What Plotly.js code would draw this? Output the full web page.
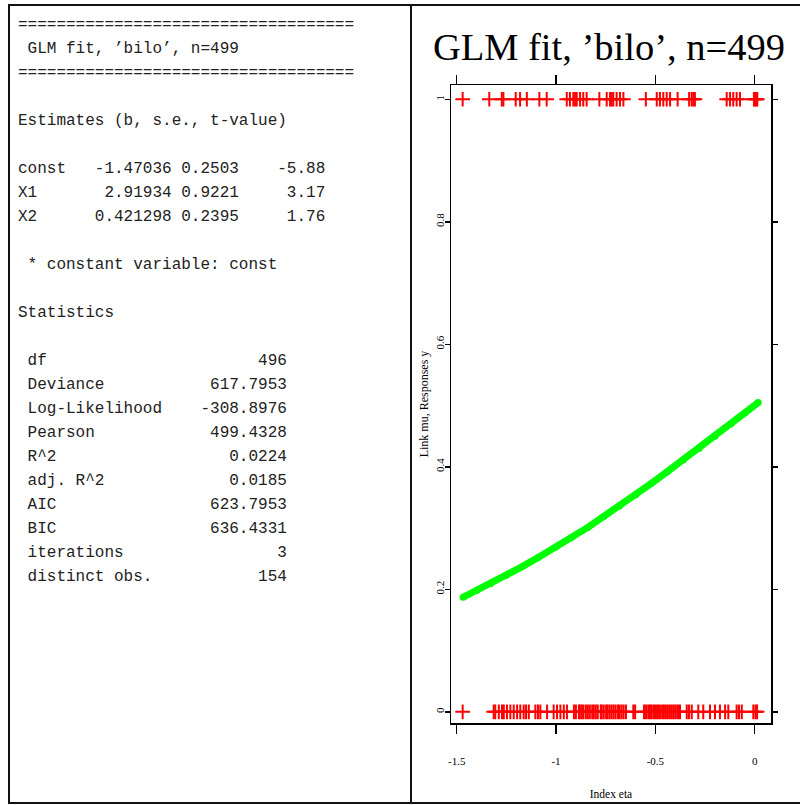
<!DOCTYPE html>
<html>
<head>
<meta charset="utf-8">
<script src="https://cdn.plot.ly/plotly-3.0.1.min.js"></script>
<style>
  html, body { margin: 0; padding: 0; background: #fff; }
  #wrap { position: relative; width: 800px; height: 805px; overflow: hidden; }
  #chart { position: absolute; left: 0; top: 0; width: 800px; height: 805px; }
  #frame { position: absolute; left: 8px; top: 4px; width: 800px; height: 796px;
           border: 2px solid #111; pointer-events: none; box-sizing: content-box; }
  #divider { position: absolute; left: 410px; top: 4px; width: 0; height: 798px;
             border-left: 2px solid #111; pointer-events: none; }
  #report { position: absolute; left: 18px; top: 13px; margin: 0;
            font-family: "Liberation Mono", "DejaVu Sans Mono", monospace;
            font-size: 16px; line-height: 24px; color: #222; white-space: pre; }
</style>
</head>
<body>
<div id="wrap">
  <div id="chart"></div>
  <div id="frame"></div>
  <div id="divider"></div>
  <pre id="report"></pre>
</div>
<script>
// ---------- report panel data ----------
const reportTitle = " GLM fit, \u2019bilo\u2019, n=499";
const estimateNames = ["const", "X1", "X2"];
const estimateB = ["-1.47036", "2.91934", "0.421298"];
const estimateSE = ["0.2503", "0.9221", "0.2395"];
const estimateT = ["-5.88", "3.17", "1.76"];
const statNames = ["df", "Deviance", "Log-Likelihood", "Pearson", "R^2", "adj. R^2", "AIC", "BIC", "iterations", "distinct obs."];
const statValues = ["496", "617.7953", "-308.8976", "499.4328", "0.0224", "0.0185", "623.7953", "636.4331", "3", "154"];

// ---------- chart data ----------
const chartTitle = "GLM fit, \u2019bilo\u2019, n=499";
const xTitle = "Index eta";
const yTitle = "Link mu, Responses y";
const xTickVals = [-1.5, -1, -0.5, 0];
const xTickText = ["-1.5", "-1", "-0.5", "0"];
const yTickVals = [0, 0.2, 0.4, 0.6, 0.8, 1];
const yTickText = ["0", "0.2", "0.4", "0.6", "0.8", "1"];

// fitted link curve (eta, mu)
const etaFit = [-1.468, -1.40, -1.33, -1.25, -1.17, -1.09, -1.00, -0.92, -0.84, -0.76,
                -0.68, -0.60, -0.52, -0.44, -0.36, -0.28, -0.20, -0.12, -0.05, 0.018];
const muFit = [0.187, 0.198, 0.209, 0.223, 0.237, 0.252, 0.269, 0.285, 0.301, 0.319,
               0.336, 0.354, 0.373, 0.392, 0.411, 0.430, 0.450, 0.470, 0.488, 0.505];

// observations with response y = 1
const etaResp1 = [-1.470, -1.336, -1.273, -1.265, -1.203, -1.181, -1.147, -1.084, -1.047,
                  -0.946, -0.930, -0.913, -0.904, -0.896, -0.879, -0.863, -0.846, -0.782,
                  -0.745, -0.728, -0.720, -0.712, -0.695, -0.678, -0.661, -0.548, -0.493,
                  -0.477, -0.460, -0.443, -0.426, -0.388, -0.330, -0.317, -0.309, -0.301,
                  -0.141, -0.124, -0.108, -0.091, -0.074, -0.004, 0.002, 0.008, 0.013];
// observations with response y = 0
const etaResp0 = [-1.470, -1.314, -1.306, -1.288, -1.272, -1.263, -1.247, -1.230, -1.213,
                  -1.196, -1.180, -1.163, -1.151, -1.137, -1.104, -1.091, -1.079, -1.045,
                  -1.012, -0.995, -0.978, -0.961, -0.945, -0.910, -0.900, -0.885, -0.880,
                  -0.870, -0.862, -0.850, -0.840, -0.830, -0.818, -0.810, -0.800, -0.790,
                  -0.775, -0.770, -0.760, -0.748, -0.740, -0.730, -0.720, -0.710, -0.700,
                  -0.688, -0.680, -0.670, -0.660, -0.648, -0.611, -0.602, -0.557, -0.547,
                  -0.536, -0.527, -0.518, -0.507, -0.497, -0.487, -0.477, -0.466, -0.457,
                  -0.447, -0.437, -0.427, -0.417, -0.407, -0.397, -0.386, -0.376, -0.342,
                  -0.331, -0.317, -0.284, -0.259, -0.225, -0.200, -0.175, -0.149, -0.133,
                  -0.091, -0.079, -0.065, -0.007, 0.004, 0.012];
const respOne = 1;
const respZero = 0;

// ---------- build report text ----------
const eqLine = "=".repeat(35);
const lines = [eqLine, reportTitle, eqLine, "", "Estimates (b, s.e., t-value)", ""];
for (let i = 0; i < estimateNames.length; i++) {
  lines.push(estimateNames[i].padEnd(6) + estimateB[i].padStart(10) + " " +
             estimateSE[i].padEnd(6) + estimateT[i].padStart(9));
}
lines.push("", " * constant variable: const", "", "Statistics", "");
for (let i = 0; i < statNames.length; i++) {
  lines.push(" " + statNames[i].padEnd(17) + statValues[i].padStart(10));
}
document.getElementById("report").textContent = lines.join("\n");

// ---------- chart ----------
const serif = "Liberation Serif, Times New Roman, serif";
const crossMarker = { symbol: "cross-thin", size: 10.5, color: "#ff0000", line: { color: "#ff0000", width: 2 } };
const traces = [
  { x: etaResp1, y: etaResp1.map(() => respOne), type: "scatter", mode: "markers", marker: crossMarker },
  { x: etaResp0, y: etaResp0.map(() => respZero), type: "scatter", mode: "markers", marker: crossMarker },
  {
    x: etaFit, y: muFit, type: "scatter", mode: "lines+markers",
    line: { color: "#00ff00", width: 7 },
    marker: { color: "#00ff00", size: 7 }
  }
];

const layout = {
  width: 800, height: 805,
  margin: { l: 451, r: 29, t: 85, b: 82 },
  paper_bgcolor: "#ffffff", plot_bgcolor: "#ffffff",
  showlegend: false,
  font: { family: serif, color: "#000" },
  title: {
    text: chartTitle,
    font: { family: serif, size: 38.5, color: "#000" },
    xref: "container", x: 0.7612, xanchor: "center",
    yref: "container", y: 0.942, yanchor: "middle"
  },
  xaxis: {
    range: [-1.5287, 0.082],
    tickvals: xTickVals, ticktext: xTickText,
    ticks: "outside", ticklen: 9, tickwidth: 1.5, tickcolor: "#000",
    ticklabelstandoff: 18,
    tickfont: { family: serif, size: 11, color: "#000" },
    showline: true, linecolor: "#000", linewidth: 1.5, mirror: "ticks",
    showgrid: false, zeroline: false, automargin: false,
    title: { text: xTitle, font: { family: serif, size: 11.5, color: "#000" }, standoff: 24 }
  },
  yaxis: {
    range: [-0.0183, 1.0233],
    tickvals: yTickVals, ticktext: yTickText,
    tickangle: -90,
    ticks: "outside", ticklen: 5, tickwidth: 1.5, tickcolor: "#000",
    ticklabelstandoff: -4,
    tickfont: { family: serif, size: 11, color: "#000" },
    showline: true, linecolor: "#000", linewidth: 1.5, mirror: "ticks",
    showgrid: false, zeroline: false, automargin: false,
    title: { text: yTitle, font: { family: serif, size: 12, color: "#000" }, standoff: 3 }
  }
};

Plotly.newPlot("chart", traces, layout, { displayModeBar: false, staticPlot: true });
</script>
</body>
</html>
